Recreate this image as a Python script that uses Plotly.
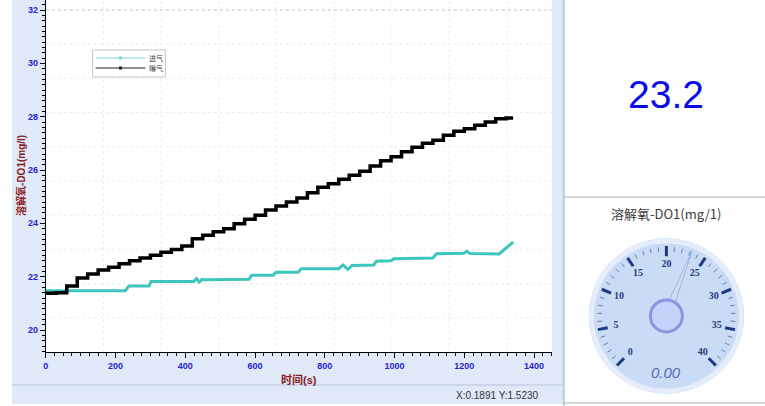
import plotly.graph_objects as go

# ---------------- data ----------------
black_t = [0, 30, 60, 90, 120, 150, 180, 210, 240, 270, 300, 330, 360, 390, 420, 450, 480, 510,
           540, 570, 600, 630, 660, 690, 720, 750, 780, 810, 840, 870, 900, 930, 960, 990, 1020,
           1050, 1080, 1110, 1140, 1170, 1200, 1230, 1260, 1290, 1320, 1340]
black_v = [21.38, 21.40, 21.65, 21.95, 22.10, 22.25, 22.35, 22.48, 22.60, 22.70, 22.80, 22.92,
           23.02, 23.15, 23.42, 23.55, 23.68, 23.80, 23.98, 24.15, 24.30, 24.50, 24.65, 24.80,
           24.95, 25.15, 25.35, 25.48, 25.65, 25.80, 25.95, 26.15, 26.35, 26.50, 26.68, 26.85,
           27.00, 27.12, 27.30, 27.45, 27.55, 27.68, 27.80, 27.92, 27.95, 27.95]

teal_t = [0, 228, 238, 296, 302, 425, 432, 440, 448, 456, 582, 590, 652, 660, 724, 732, 840, 852,
          866, 878, 940, 948, 990, 998, 1110, 1120, 1198, 1207, 1216, 1300, 1340]
teal_v = [21.47, 21.47, 21.65, 21.65, 21.82, 21.82, 21.93, 21.80, 21.90, 21.88, 21.90, 22.05,
          22.05, 22.17, 22.17, 22.30, 22.30, 22.44, 22.27, 22.42, 22.44, 22.58, 22.60, 22.67,
          22.70, 22.86, 22.88, 22.95, 22.87, 22.85, 23.30]

series_names = ["进气", "曝气"]
series_colors = ["#3cc6bd", "#000000"]
legend_colors = ["#7fd8d0", "#222222"]
x_ticks = [0, 200, 400, 600, 800, 1000, 1200, 1400]
y_ticks = [20, 22, 24, 26, 28, 30, 32]

current_value = "23.2"
gauge_value = 23.2
gauge_min, gauge_max = 0, 40
gauge_labels = ["0", "5", "10", "15", "20", "25", "30", "35", "40"]
gauge_label_vals = [0, 5, 10, 15, 20, 25, 30, 35, 40]
gauge_minor_vals = list(range(0, 41))
gauge_readout = "0.00"

# ---------------- geometry helpers (pixel -> paper) ----------------
W, H = 765, 406
def PX(x):
    return x / W
def PY(y):
    return 1 - y / H

plot_l, plot_r, plot_t, plot_b = 43, 551, 0, 352
BLUE_TXT = "#2424d0"
RED_TXT = "#8b1a1a"

fig = go.Figure()

fig.add_trace(go.Scatter(x=teal_t, y=teal_v, mode="lines", name=series_names[0],
                         line=dict(color=series_colors[0], width=3),
                         showlegend=False, xaxis="x", yaxis="y"))
fig.add_trace(go.Scatter(x=black_t, y=black_v, mode="lines", name=series_names[1],
                         line=dict(color=series_colors[1], width=3.5, shape="hv"),
                         showlegend=False, xaxis="x", yaxis="y"))

# ---------------- gauge (polar) ----------------
sweep = 270.0
def ang(v):
    return (v - gauge_min) / (gauge_max - gauge_min) * sweep

rim_theta = list(range(0, 361, 3))
fig.add_trace(go.Scatterpolar(r=[0.965] * len(rim_theta), theta=rim_theta, mode="lines",
                              line=dict(color="#e4edf9", width=5), showlegend=False, hoverinfo="skip",
                              subplot="polar"))
mr, mt = [], []
for v in gauge_minor_vals:
    if v % 5 != 0:
        mr += [0.83, 0.89, None]
        mt += [ang(v), ang(v), None]
fig.add_trace(go.Scatterpolar(r=mr, theta=mt, mode="lines", line=dict(color="#6c7ca8", width=1),
                              showlegend=False, hoverinfo="skip", subplot="polar"))
Mr, Mt = [], []
for v in gauge_label_vals:
    Mr += [0.77, 0.9, None]
    Mt += [ang(v), ang(v), None]
fig.add_trace(go.Scatterpolar(r=Mr, theta=Mt, mode="lines", line=dict(color="#1c3a80", width=3),
                              showlegend=False, hoverinfo="skip", subplot="polar"))
fig.add_trace(go.Scatterpolar(r=[0.66] * len(gauge_label_vals), theta=[ang(v) for v in gauge_label_vals],
                              mode="text", text=gauge_labels,
                              textfont=dict(family="Liberation Serif", size=10, color="#2a3c7c", weight="bold"),
                              showlegend=False, hoverinfo="skip", subplot="polar"))
na = ang(gauge_value)
fig.add_trace(go.Scatterpolar(r=[0.9, 0.2, 0.2, 0.9], theta=[na, na - 12, na + 12, na], mode="lines",
                              fill="toself", fillcolor="#d2dcee", line=dict(color="#9fb4dc", width=1),
                              showlegend=False, hoverinfo="skip", subplot="polar"))
fig.add_trace(go.Scatterpolar(r=[0], theta=[0], mode="markers",
                              marker=dict(size=32, color="#c3d3f7", line=dict(color="#8e92e0", width=3)),
                              showlegend=False, hoverinfo="skip", subplot="polar"))

# ---------------- shapes ----------------
shapes = []
shapes.append(dict(type="rect", xref="paper", yref="paper", x0=PX(9), x1=PX(563), y0=PY(404), y1=PY(0),
                   fillcolor="#dfe9f8", line=dict(width=0), layer="below"))
shapes.append(dict(type="rect", xref="x domain", yref="y domain", x0=0, x1=1, y0=0, y1=1,
                   fillcolor="white", line=dict(width=0), layer="below"))
shapes.append(dict(type="line", xref="paper", yref="paper", x0=PX(9), x1=PX(563), y0=PY(385), y1=PY(385),
                   line=dict(color="#b6c4da", width=1)))
shapes.append(dict(type="line", xref="paper", yref="paper", x0=PX(563), x1=PX(563), y0=0, y1=1,
                   line=dict(color="#bccbde", width=2)))
shapes.append(dict(type="line", xref="paper", yref="paper", x0=PX(563), x1=1, y0=PY(197), y1=PY(197),
                   line=dict(color="#a9b0b8", width=1)))
shapes.append(dict(type="line", xref="paper", yref="paper", x0=PX(563), x1=1, y0=PY(403), y1=PY(403),
                   line=dict(color="#a9b0b8", width=1)))
ph = plot_b - plot_t
for i in range(0, 10):
    fy = 1 - (10 + 34.2 * i - plot_t) / ph
    shapes.append(dict(type="line", xref="x domain", yref="y domain", x0=0, x1=1, y0=fy, y1=fy,
                       line=dict(color="#c4c4c4" if i == 0 else "#ececec", width=1, dash="dot"), layer="below"))
pw = plot_r - plot_l
for j in range(1, 9):
    fx = 57.9 * j / pw
    shapes.append(dict(type="line", xref="x domain", yref="y domain", x0=fx, x1=fx, y0=0, y1=1,
                       line=dict(color="#ececec", width=1, dash="dot"), layer="below"))

lg_x0, lg_x1, lg_y0, lg_y1 = 90, 163, 50, 77
shapes.append(dict(type="rect", xref="paper", yref="paper", x0=PX(lg_x0), x1=PX(lg_x1), y0=PY(lg_y1), y1=PY(lg_y0),
                   fillcolor="white", line=dict(color="#c4c4c4", width=1)))
ann = []
for k, (nm, col) in enumerate(zip(series_names, legend_colors)):
    yy = 58 + 10 * k
    shapes.append(dict(type="line", xref="paper", yref="paper", x0=PX(93), x1=PX(143), y0=PY(yy), y1=PY(yy),
                       line=dict(color=col, width=1)))
    shapes.append(dict(type="rect", xref="paper", yref="paper", x0=PX(116.5), x1=PX(119.5), y0=PY(yy + 1.5),
                       y1=PY(yy - 1.5), fillcolor=col, line=dict(width=0)))
    ann.append(dict(text=nm, xref="paper", yref="paper", x=PX(145), y=PY(yy), xanchor="left", yanchor="middle",
                    showarrow=False, font=dict(family="Noto Sans CJK SC", size=7, color="#444444")))

def A(text, x, y, **kw):
    d = dict(text=text, xref="paper", yref="paper", x=PX(x), y=PY(y), xanchor="center", yanchor="middle",
             showarrow=False)
    d.update(kw)
    return d

ann.append(A("溶解氧-DO1(mg/l)", 18, 175, textangle=-90,
             font=dict(family="Liberation Sans, Noto Sans CJK SC", size=10, color=RED_TXT, weight="bold")))
ann.append(A("时间(s)", 297, 379,
             font=dict(family="Liberation Sans, Noto Sans CJK SC", size=11, color=RED_TXT, weight="bold")))
ann.append(A("X:0.1891 Y:1.5230", 496, 395, font=dict(family="Liberation Sans", size=10, color="#333333")))
ann.append(A(current_value, 666, 94, font=dict(family="Liberation Sans", size=39, color="#0a0aee")))
ann.append(A("溶解氧-DO1(mg/1)", 666, 213, font=dict(family="Noto Sans CJK SC", size=13, color="#3a3a3a")))
ann.append(A(gauge_readout, 666, 372, font=dict(family="Liberation Sans", size=15, color="#5a6cb4", style="italic")))

tickfont = dict(family="Liberation Sans", size=9, color=BLUE_TXT, weight="bold")

fig.update_layout(
    width=W, height=H, margin=dict(l=0, r=0, t=0, b=0, pad=0), autosize=False,
    paper_bgcolor="white", plot_bgcolor="white", showlegend=False,
    xaxis=dict(domain=[PX(plot_l), PX(plot_r)], range=[0, 1451], tickvals=x_ticks, ticks="outside",
               ticklen=5, tickcolor="black", showline=True, linecolor="black", linewidth=1,
               showgrid=False, zeroline=False, tickfont=tickfont, fixedrange=True,
               minor=dict(dtick=25, tick0=0, ticks="outside", ticklen=3, tickcolor="black", showgrid=False)),
    yaxis=dict(domain=[PY(plot_b), PY(plot_t)], range=[19.175, 32.375], tickvals=y_ticks, ticks="outside",
               ticklen=5, tickcolor="black", showline=True, linecolor="black", linewidth=1,
               showgrid=False, zeroline=False, tickfont=tickfont, fixedrange=True,
               minor=dict(dtick=0.2, tick0=20, ticks="outside", ticklen=3, tickcolor="black", showgrid=False)),
    polar=dict(domain=dict(x=[PX(588), PX(744)], y=[PY(394), PY(238)]), bgcolor="#c9dbf5",
               radialaxis=dict(visible=False, range=[0, 1]),
               angularaxis=dict(visible=False, rotation=225, direction="clockwise")),
    shapes=shapes, annotations=ann,
)

fig.write_html("out.html", config={"displayModeBar": False},
               post_script="document.body.style.margin='0';document.body.style.overflow='hidden';")
